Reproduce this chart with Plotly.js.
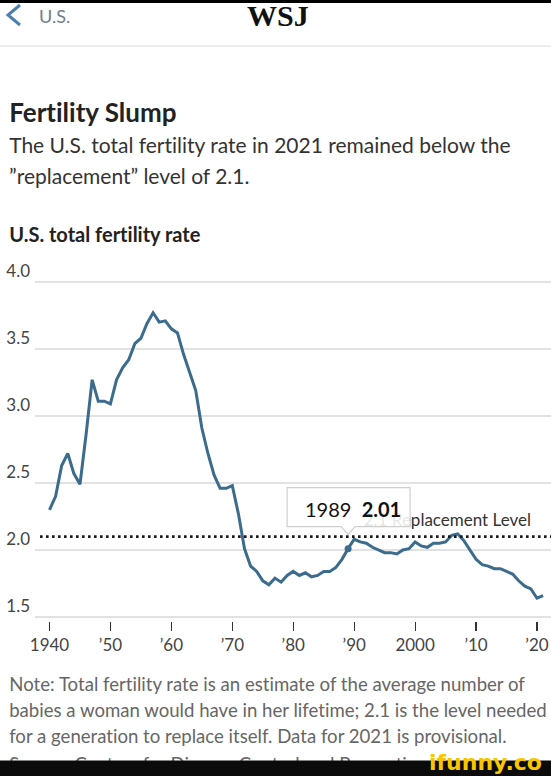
<!DOCTYPE html>
<html><head><meta charset="utf-8">
<script src="https://cdn.plot.ly/plotly-3.0.1.min.js"></script>
<style>html,body{margin:0;padding:0;background:#fff;}#chart{width:551px;height:776px;}
#chart text, #chart tspan{font-variant-ligatures:none !important;font-feature-settings:"liga" 0,"clig" 0,"dlig" 0 !important;}</style>
</head><body><div id="chart"></div>
<script>
const years = [1940,1941,1942,1943,1944,1945,1946,1947,1948,1949,
  1950,1951,1952,1953,1954,1955,1956,1957,1958,1959,
  1960,1961,1962,1963,1964,1965,1966,1967,1968,1969,
  1970,1971,1972,1973,1974,1975,1976,1977,1978,1979,
  1980,1981,1982,1983,1984,1985,1986,1987,1988,1989,
  1990,1991,1992,1993,1994,1995,1996,1997,1998,1999,
  2000,2001,2002,2003,2004,2005,2006,2007,2008,2009,
  2010,2011,2012,2013,2014,2015,2016,2017,2018,2019,
  2020,2021];
const fertilityRate = [2.30,2.40,2.63,2.72,2.57,2.49,2.86,3.27,3.11,3.11,
  3.09,3.27,3.36,3.42,3.54,3.58,3.69,3.77,3.70,3.71,
  3.65,3.62,3.46,3.32,3.19,2.91,2.72,2.56,2.46,2.46,
  2.48,2.27,2.01,1.88,1.84,1.77,1.74,1.79,1.76,1.81,
  1.84,1.81,1.83,1.80,1.81,1.84,1.84,1.87,1.93,2.01,
  2.08,2.06,2.05,2.02,2.00,1.98,1.98,1.97,2.00,2.01,
  2.06,2.03,2.02,2.05,2.05,2.06,2.11,2.12,2.07,2.00,
  1.93,1.89,1.88,1.86,1.86,1.84,1.82,1.77,1.73,1.71,
  1.64,1.66];
const replacementLevel = 2.1;
const replacementLabel = '2.1 Replacement Level';
const highlightYear = 1989;
const xTickVals = [1940,1950,1960,1970,1980,1990,2000,2010,2020];
const xTickText = ['1940','\u201950','\u201960','\u201970','\u201980','\u201990','2000','\u201910','\u201920'];
const yTickVals = [1.5,2.0,2.5,3.0,3.5,4.0];
const yTickText = ['1.5','2.0','2.5','3.0','3.5','4.0'];

const highlightValue = fertilityRate[years.indexOf(highlightYear)];

// layout geometry (pixels)
const W = 551, H = 776, L = 35, R = 551, T = 275, B = 621;
const px = x => (x - L) / (R - L);
const py = y => (B - y) / (B - T);

const SANS = 'Lato, "Noto Sans", sans-serif';
const lineColor = '#3b6b8d';

const traces = [
  {x: years, y: fertilityRate, type: 'scatter', mode: 'lines',
   line: {color: lineColor, width: 3}, hoverinfo: 'skip'},
  {x: [highlightYear], y: [highlightValue], type: 'scatter', mode: 'markers',
   marker: {color: lineColor, size: 7}, hoverinfo: 'skip'}
];

function txt(text, x, y, size, color, opts) {
  return Object.assign({text: text, xref: 'paper', yref: 'paper', x: px(x), y: py(y),
    xanchor: 'left', yanchor: 'middle', showarrow: false,
    font: {family: SANS, size: size, color: color}}, opts || {});
}

const annotations = [
  txt('WSJ', 278, 15, 30, '#111', {xanchor: 'center', font: {family: '"Liberation Serif", serif', size: 30, color: '#111', weight: 700}}),
  txt('U.S.', 37, 16, 18, '#6f7d8a'),
  txt('<b>Fertility Slump</b>', 7, 112, 26, '#222'),
  txt('The U.S. total fertility rate in 2021 remained below the', 7, 145, 21, '#333'),
  txt('\u201dreplacement\u201d level of 2.1.', 7, 175, 21, '#333'),
  txt('<b>U.S. total fertility rate</b>', 7, 234, 20, '#222'),
  txt('Note: Total fertility rate is an estimate of the average number of', 7, 684, 18.6, '#666'),
  txt('babies a woman would have in her lifetime; 2.1 is the level needed', 7, 710, 18.6, '#666'),
  txt('for a generation to replace itself. Data for 2021 is provisional.', 7, 736, 18.6, '#666'),
  txt('Source: Centers for Disease Control and Prevention', 7, 764, 18.6, '#666'),
  // tooltip text
  {text: highlightYear + '&nbsp;&nbsp;<b>' + highlightValue.toFixed(2) + '</b>', x: highlightYear, y: highlightValue,
   xref: 'x', yref: 'y', xanchor: 'center', yanchor: 'middle', showarrow: false, xshift: 5, yshift: 40,
   font: {family: SANS, size: 20, color: '#111'}},
  // bottom black bar
  {text: '&nbsp;', xref: 'paper', yref: 'paper', x: px(W / 2), y: py(760), xanchor: 'center', yanchor: 'top',
   showarrow: false, width: W + 10, height: 20, bgcolor: '#0b0b0b', borderpad: 0, font: {size: 10}},
  txt('<b>ifunny.co</b>', 544, 762, 22, '#f7c600', {xanchor: 'right', font: {family: '"DejaVu Sans", sans-serif', size: 22, color: '#f7c600'}})
];

const shapes = [
  {type: 'rect', xref: 'paper', yref: 'paper', x0: px(0), x1: px(W), y0: py(0) + 0.02, y1: py(3), fillcolor: '#000', line: {width: 0}},
  {type: 'line', xref: 'paper', yref: 'paper', x0: px(0), x1: px(W), y0: py(46), y1: py(46), line: {color: '#ececec', width: 2}},
  {type: 'path', xref: 'paper', yref: 'paper', path: 'M ' + px(20) + ' ' + py(5) + ' L ' + px(8) + ' ' + py(15) + ' L ' + px(20) + ' ' + py(25),
   line: {color: '#4d7fae', width: 3}},
  {type: 'line', xref: 'paper', yref: 'y', x0: px(40), x1: 1, y0: replacementLevel, y1: replacementLevel,
   line: {color: '#1a1a1a', width: 2.6, dash: '2.6px,3.4px'}},
  {type: 'rect', xref: 'paper', yref: 'y', x0: px(300), x1: px(541), y0: replacementLevel, y1: replacementLevel,
   line: {width: 0}, fillcolor: 'rgba(0,0,0,0)',
   label: {text: replacementLabel, textposition: 'top right', yanchor: 'bottom', xanchor: 'right', padding: 7,
     font: {family: SANS, size: 17, color: '#333'}}},
  {type: 'path', xref: 'x', yref: 'y', xsizemode: 'pixel', ysizemode: 'pixel', xanchor: highlightYear, yanchor: highlightValue,
   path: 'M -61 61 L 62 61 L 62 22 L 7 22 L 0 14 L -7 22 L -61 22 Z',
   fillcolor: 'rgba(255,255,255,0.88)', line: {color: '#cfcfcf', width: 1.2}}
];

const layout = {
  width: W, height: H,
  margin: {l: L, r: W - R, t: T, b: H - B, pad: 0},
  paper_bgcolor: '#fff', plot_bgcolor: '#fff',
  showlegend: false,
  xaxis: {range: [1937.62, 2022.3], tickvals: xTickVals, ticktext: xTickText, showgrid: false, zeroline: false,
    showline: false, ticks: 'outside', ticklen: 9, tickwidth: 1.2, tickcolor: '#333',
    tickfont: {family: SANS, size: 17, color: '#444'}, fixedrange: true},
  yaxis: {range: [1.47, 4.052], tickvals: yTickVals, ticktext: yTickText, showgrid: true, gridcolor: '#e2e2e2',
    gridwidth: 1.5, zeroline: false, showline: false, ticks: '', ticklabelshift: -11, ticklabelstandoff: 4,
    tickfont: {family: SANS, size: 17, color: '#444'}, fixedrange: true},
  annotations: annotations,
  shapes: shapes
};

Plotly.newPlot('chart', traces, layout, {displayModeBar: false, staticPlot: true});
</script>
</body></html>
